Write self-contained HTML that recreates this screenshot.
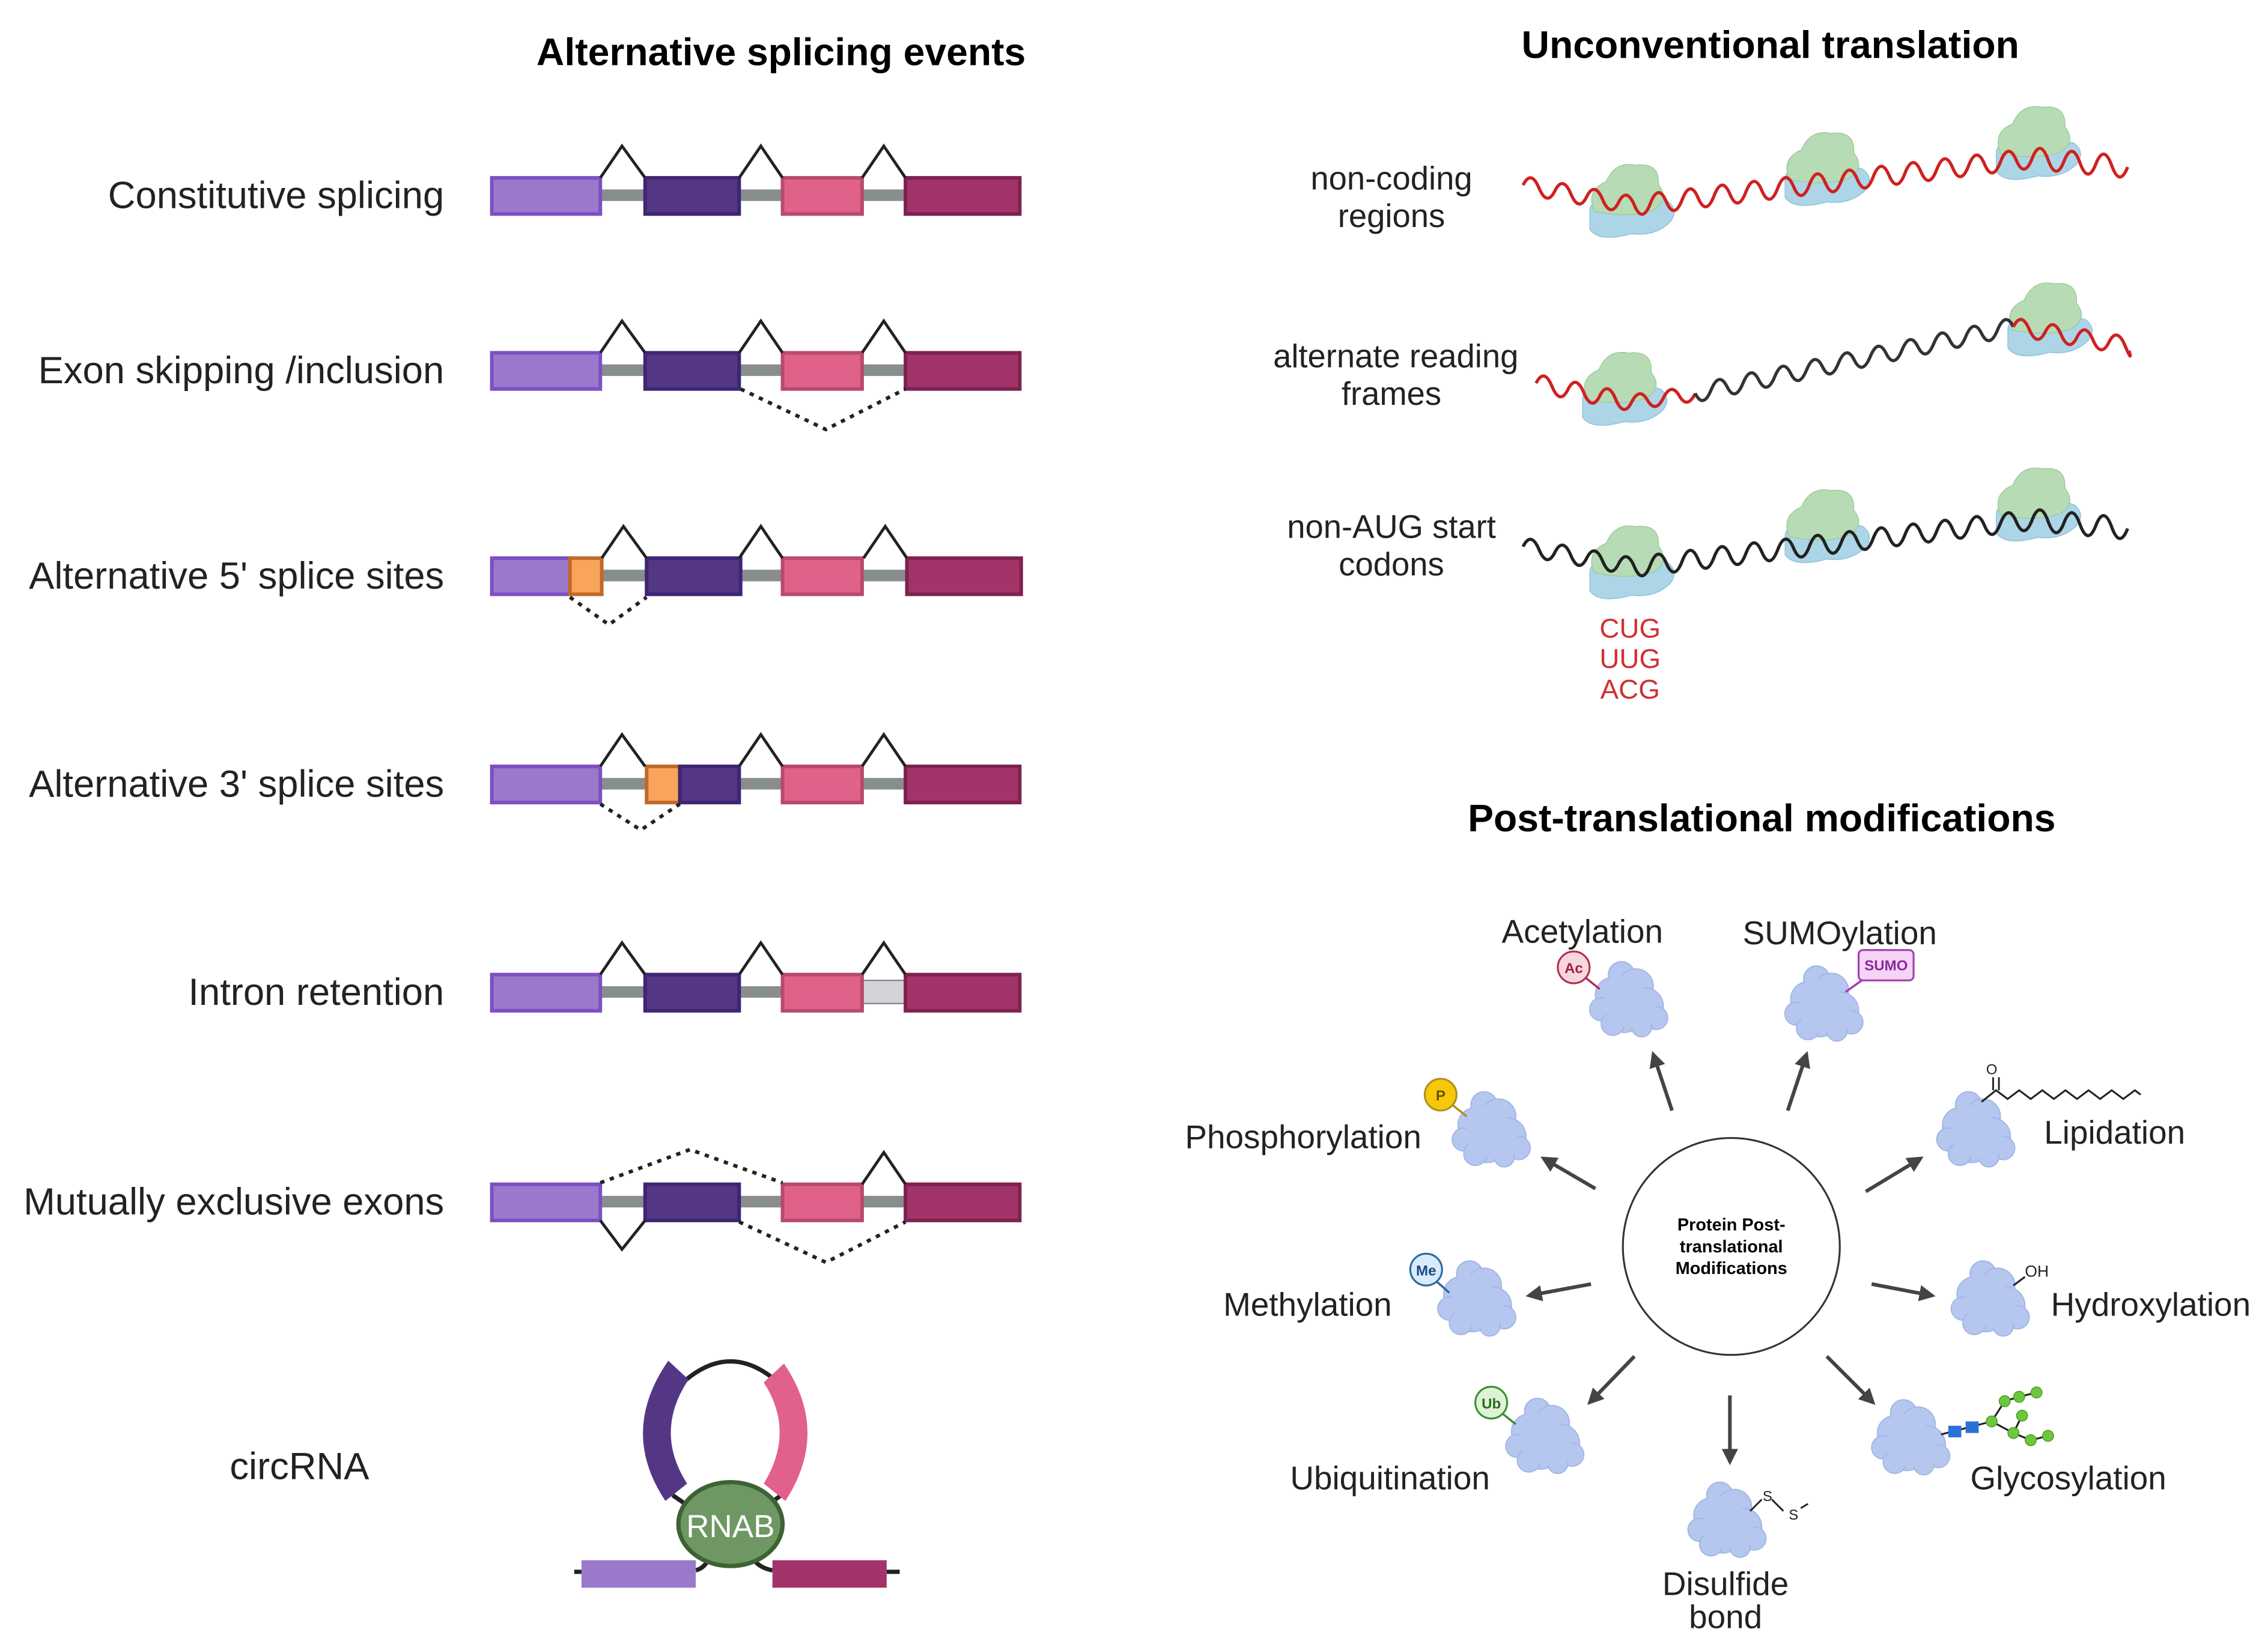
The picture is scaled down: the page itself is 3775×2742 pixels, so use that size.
<!DOCTYPE html>
<html><head><meta charset="utf-8"><style>
html,body{margin:0;padding:0;background:#fff}
svg{display:block}
text{font-family:"Liberation Sans",sans-serif;fill:#222}
</style></head><body>
<svg width="3775" height="2742" viewBox="0 0 1568 1139" xmlns="http://www.w3.org/2000/svg">
<defs>
<g id="prot">
<g fill="#b5c7ef" stroke="#a2b6e6" stroke-width="0.8">
<circle cx="-4" cy="-16" r="9"/><circle cx="6" cy="-8" r="12"/><circle cx="-10" cy="-2" r="12"/>
<circle cx="12" cy="6" r="13"/><circle cx="-2" cy="10" r="14"/><circle cx="-18" cy="8" r="8"/>
<circle cx="20" cy="14" r="8"/><circle cx="-10" cy="18" r="8"/><circle cx="10" cy="20" r="7"/>
</g>
<g fill="#b5c7ef"><circle cx="0" cy="4" r="16"/><circle cx="-6" cy="-6" r="10"/><circle cx="8" cy="10" r="12"/></g>
</g>
<g id="ribo" transform="scale(1.03)">
<path d="M-27,6 q0,-9 14,-7 q22,-5 38,0 q8,6 2,14 q-10,10 -26,8 q-22,6 -28,-3 z" fill="#acd6e8" stroke="#8fc1da" stroke-width="0.6"/>
<path d="M-24,6 q-6,-14 8,-20 q6,-14 20,-11 q16,-2 15,13 q8,10 -3,17 q-16,6 -40,1 z" fill="#b7dcb5" stroke="#9ccb99" stroke-width="0.6"/>
</g>
<marker id="ah" viewBox="0 0 10 10" refX="8" refY="5" markerWidth="4.5" markerHeight="4.5" orient="auto"><path d="M0,0 L10,5 L0,10 z" fill="#444"/></marker>
</defs>

<text x="540" y="45" font-size="26.7" font-weight="bold" text-anchor="middle" style="fill:#000">Alternative splicing events</text>
<g font-size="26.3" text-anchor="end">
<text x="307" y="144">Constitutive splicing</text>
<text x="307" y="265">Exon skipping /inclusion</text>
<text x="307" y="407">Alternative 5' splice sites</text>
<text x="307" y="551">Alternative 3' splice sites</text>
<text x="307" y="695">Intron retention</text>
<text x="307" y="840">Mutually exclusive exons</text>
<text x="207" y="1023" text-anchor="middle">circRNA</text>
</g>

<g stroke-width="2.5">
<g transform="translate(0,135)">
<rect x="415" y="-4" width="32" height="8" fill="#888e8e"/><rect x="511" y="-4" width="31" height="8" fill="#888e8e"/><rect x="596" y="-4" width="31" height="8" fill="#888e8e"/>
<rect x="340" y="-12" width="75" height="25" fill="#9a78cc" stroke="#7c4fc4"/>
<rect x="446" y="-12" width="65" height="25" fill="#533784" stroke="#3f2573"/>
<rect x="541" y="-12" width="55" height="25" fill="#e0628a" stroke="#b84a6c"/>
<rect x="626" y="-12" width="79" height="25" fill="#a2346a" stroke="#7e2250"/>
<path d="M415,-12 L430,-34 L446,-12 M511,-12 L526,-34 L541,-12 M596,-12 L611,-34 L626,-12" fill="none" stroke="#222" stroke-width="2"/>
</g>
<g transform="translate(0,256)">
<rect x="415" y="-4" width="32" height="8" fill="#888e8e"/><rect x="511" y="-4" width="31" height="8" fill="#888e8e"/><rect x="596" y="-4" width="31" height="8" fill="#888e8e"/>
<rect x="340" y="-12" width="75" height="25" fill="#9a78cc" stroke="#7c4fc4"/>
<rect x="446" y="-12" width="65" height="25" fill="#533784" stroke="#3f2573"/>
<rect x="541" y="-12" width="55" height="25" fill="#e0628a" stroke="#b84a6c"/>
<rect x="626" y="-12" width="79" height="25" fill="#a2346a" stroke="#7e2250"/>
<path d="M415,-12 L430,-34 L446,-12 M511,-12 L526,-34 L541,-12 M596,-12 L611,-34 L626,-12" fill="none" stroke="#222" stroke-width="2"/>
<path d="M512,13 L571,41 L626,13" fill="none" stroke="#222" stroke-width="2.5" stroke-dasharray="3,4"/>
</g>
<g transform="translate(0,398)">
<rect x="415" y="-4" width="32" height="8" fill="#888e8e"/><rect x="511" y="-4" width="31" height="8" fill="#888e8e"/><rect x="596" y="-4" width="31" height="8" fill="#888e8e"/>
<rect x="340" y="-12" width="54" height="25" fill="#9a78cc" stroke="#7c4fc4"/>
<rect x="394" y="-12" width="22" height="25" fill="#f8a45c" stroke="#c06a2a"/>
<rect x="447" y="-12" width="65" height="25" fill="#533784" stroke="#3f2573"/>
<rect x="541" y="-12" width="55" height="25" fill="#e0628a" stroke="#b84a6c"/>
<rect x="627" y="-12" width="79" height="25" fill="#a2346a" stroke="#7e2250"/>
<path d="M416,-12 L431,-34 L447,-12 M511,-12 L526,-34 L541,-12 M597,-12 L612,-34 L627,-12" fill="none" stroke="#222" stroke-width="2"/>
<path d="M394,15 L421,34 L447,15" fill="none" stroke="#222" stroke-width="2.5" stroke-dasharray="3,4"/>
</g>
<g transform="translate(0,542)">
<rect x="415" y="-4" width="32" height="8" fill="#888e8e"/><rect x="511" y="-4" width="31" height="8" fill="#888e8e"/><rect x="596" y="-4" width="31" height="8" fill="#888e8e"/>
<rect x="340" y="-12" width="75" height="25" fill="#9a78cc" stroke="#7c4fc4"/>
<rect x="447" y="-12" width="23" height="25" fill="#f8a45c" stroke="#c06a2a"/>
<rect x="470" y="-12" width="41" height="25" fill="#533784" stroke="#3f2573"/>
<rect x="541" y="-12" width="55" height="25" fill="#e0628a" stroke="#b84a6c"/>
<rect x="626" y="-12" width="79" height="25" fill="#a2346a" stroke="#7e2250"/>
<path d="M415,-12 L430,-34 L446,-12 M511,-12 L526,-34 L541,-12 M596,-12 L611,-34 L626,-12" fill="none" stroke="#222" stroke-width="2"/>
<path d="M415,14 L443,32 L470,14" fill="none" stroke="#222" stroke-width="2.5" stroke-dasharray="3,4"/>
</g>
<g transform="translate(0,686)">
<rect x="415" y="-4" width="32" height="8" fill="#888e8e"/><rect x="511" y="-4" width="31" height="8" fill="#888e8e"/>
<rect x="596" y="-8" width="31" height="16" fill="#d4d4d8" stroke="#888" stroke-width="1"/>
<rect x="340" y="-12" width="75" height="25" fill="#9a78cc" stroke="#7c4fc4"/>
<rect x="446" y="-12" width="65" height="25" fill="#533784" stroke="#3f2573"/>
<rect x="541" y="-12" width="55" height="25" fill="#e0628a" stroke="#b84a6c"/>
<rect x="626" y="-12" width="79" height="25" fill="#a2346a" stroke="#7e2250"/>
<path d="M415,-12 L430,-34 L446,-12 M511,-12 L526,-34 L541,-12 M596,-12 L611,-34 L626,-12" fill="none" stroke="#222" stroke-width="2"/>
</g>
<g transform="translate(0,831)">
<rect x="415" y="-4" width="32" height="8" fill="#888e8e"/><rect x="511" y="-4" width="31" height="8" fill="#888e8e"/><rect x="596" y="-4" width="31" height="8" fill="#888e8e"/>
<rect x="340" y="-12" width="75" height="25" fill="#9a78cc" stroke="#7c4fc4"/>
<rect x="446" y="-12" width="65" height="25" fill="#533784" stroke="#3f2573"/>
<rect x="541" y="-12" width="55" height="25" fill="#e0628a" stroke="#b84a6c"/>
<rect x="626" y="-12" width="79" height="25" fill="#a2346a" stroke="#7e2250"/>
<path d="M596,-12 L611,-34 L626,-12 M415,13 L430,33 L446,13" fill="none" stroke="#222" stroke-width="2"/>
<path d="M415,-13 L477,-36 L541,-13 M511,14 L571,42 L626,14" fill="none" stroke="#222" stroke-width="2.5" stroke-dasharray="3,4"/>
</g>
</g>

<g>
<path d="M397,1087 H402 M613,1087 H622" stroke="#222" stroke-width="3"/>
<path d="M481,1086 Q488,1084 490,1077 M534,1086 Q524,1084 520,1077" stroke="#222" stroke-width="3" fill="none"/>
<path d="M470,958 Q505,925 540,958" stroke="#222" stroke-width="3" fill="none"/>
<path d="M465,1034 L478,1043 M540,1034 L528,1043" stroke="#222" stroke-width="3"/>
<path d="M462,941 L476,954 Q452,990 475,1026 L460,1038 Q428,990 462,941 z" fill="#533784"/>
<path d="M542,943 L528,956 Q550,990 528,1026 L543,1038 Q574,990 542,943 z" fill="#e0628a"/>
<rect x="402" y="1079" width="79" height="19" fill="#9a78cc"/>
<rect x="534" y="1079" width="79" height="19" fill="#a2346a"/>
<ellipse cx="505" cy="1054" rx="36" ry="29" fill="#6e9763" stroke="#3c6333" stroke-width="3"/>
<text x="505" y="1063" font-size="22" text-anchor="middle" style="fill:#fff">RNAB</text>
</g>

<text x="1224" y="40" font-size="26.7" font-weight="bold" text-anchor="middle" style="fill:#000">Unconventional translation</text>
<g font-size="22.6" text-anchor="middle">
<text x="962" y="131">non-coding</text><text x="962" y="157">regions</text>
<text x="965" y="254">alternate reading</text><text x="962" y="280">frames</text>
<text x="962" y="372">non-AUG start</text><text x="962" y="398">codons</text>
</g>
<g font-size="19" text-anchor="middle"><text x="1127" y="441" style="fill:#d03030">CUG</text><text x="1127" y="462" style="fill:#d03030">UUG</text><text x="1127" y="483" style="fill:#d03030">ACG</text></g>

<use href="#ribo" x="1127" y="140"/><use href="#ribo" x="1262" y="118"/><use href="#ribo" x="1408" y="100"/>
<use href="#ribo" x="1122" y="270"/><use href="#ribo" x="1416" y="222"/>
<use href="#ribo" x="1127" y="390"/><use href="#ribo" x="1262" y="365"/><use href="#ribo" x="1408" y="350"/>

<g fill="none" stroke-width="2.2">
<path stroke="#d02020" d="M1053,128 q5.5,-11 11,2 t11,2 t11,2 t11,2 t11,2 t11,2 t11,2 t11,-1.3 t11,-1.3 t11,-1.3 t11,-1.3 t11,-1.3 t11,-1.3 t11,-1.3 t11,-1.3 t11,-1.3 t11,-1.3 t11,-1.3 t11,-1.3 t11,-1.3 t11,-1.3 t11,-1.3 t11,-1.3 t11,-1.3 t11,-1.3 t11,-1.3 t11,-1.3 t11,-1.3 t11,-1.3 t11,-1.3 t11,-1.3 t11,-1.3 t11,1 t11,1 t11,1 t11,1 t11,1 t11,1"/>
<path stroke="#d02020" d="M1062,265 q5.5,-11 11,2.2 t11,2.2 t11,2.2 t11,2.2 t11,2.2 t11,2.2 t11,-1.5 t11,-1.5 t11,-1.5 t11,-1.5"/>
<path stroke="#333" d="M1172,272 q5.5,11 11,-2.3 t11,-2.3 t11,-2.3 t11,-2.3 t11,-2.3 t11,-2.3 t11,-2.3 t11,-2.3 t11,-2.3 t11,-2.3 t11,-2.3 t11,-2.3 t11,-2.3 t11,-2.3 t11,-2.3 t11,-2.3 t11,-2.3 t11,-2.3 t11,-2.3 t11,-2.3"/>
<path stroke="#d02020" d="M1392,226 q5.5,-11 11,1.8 t11,1.8 t11,1.8 t11,1.8 t11,1.8 t11,1.8 t11,1.8 t3,4"/>
<path stroke="#222" d="M1053,378 q5.5,-11 11,2 t11,2 t11,2 t11,2 t11,2 t11,2 t11,2 t11,-1.3 t11,-1.3 t11,-1.3 t11,-1.3 t11,-1.3 t11,-1.3 t11,-1.3 t11,-1.3 t11,-1.3 t11,-1.3 t11,-1.3 t11,-1.3 t11,-1.3 t11,-1.3 t11,-1.3 t11,-1.3 t11,-1.3 t11,-1.3 t11,-1.3 t11,-1.3 t11,-1.3 t11,-1.3 t11,-1.3 t11,-1.3 t11,-1.3 t11,1 t11,1 t11,1 t11,1 t11,1 t11,1"/>
</g>

<text x="1218" y="575" font-size="26.7" font-weight="bold" text-anchor="middle" style="fill:#000">Post-translational modifications</text>
<circle cx="1197" cy="862" r="75" fill="#fff" stroke="#333" stroke-width="1.3"/>
<g font-size="12" font-weight="bold" text-anchor="middle">
<text x="1197" y="851" style="fill:#000">Protein Post-</text>
<text x="1197" y="866" style="fill:#000">translational</text>
<text x="1197" y="881" style="fill:#000">Modifications</text>
</g>
<g stroke="#444" stroke-width="2.5" marker-end="url(#ah)">
<line x1="1156" y1="768" x2="1143" y2="729"/>
<line x1="1236" y1="768" x2="1249" y2="729"/>
<line x1="1103" y1="822" x2="1067" y2="801"/>
<line x1="1290" y1="824" x2="1328" y2="801"/>
<line x1="1100" y1="888" x2="1057" y2="896"/>
<line x1="1294" y1="888" x2="1336" y2="896"/>
<line x1="1130" y1="938" x2="1099" y2="970"/>
<line x1="1196" y1="965" x2="1196" y2="1011"/>
<line x1="1263" y1="938" x2="1295" y2="970"/>
</g>

<use href="#prot" x="1125" y="690"/><use href="#prot" x="1260" y="693"/>
<use href="#prot" x="1030" y="780"/><use href="#prot" x="1365" y="780"/>
<use href="#prot" x="1020" y="897"/><use href="#prot" x="1375" y="897"/>
<use href="#prot" x="1067" y="992"/><use href="#prot" x="1320" y="993"/>
<use href="#prot" x="1193" y="1050"/>

<line x1="1096" y1="676" x2="1106" y2="684" stroke="#b03050" stroke-width="1.5"/>
<circle cx="1088" cy="669" r="11" fill="#f7d6de" stroke="#b03050" stroke-width="1.3"/>
<text x="1088" y="673" font-size="10" font-weight="bold" text-anchor="middle" style="fill:#a02040">Ac</text>
<line x1="1276" y1="686" x2="1290" y2="676" stroke="#a040b0" stroke-width="1.5"/>
<rect x="1285" y="657" width="38" height="21" rx="3" fill="#f5d4f7" stroke="#a040b0" stroke-width="1.3"/>
<text x="1304" y="671" font-size="10" font-weight="bold" text-anchor="middle" style="fill:#8a2a9a">SUMO</text>
<line x1="1004" y1="764" x2="1014" y2="772" stroke="#b09020" stroke-width="1.5"/>
<circle cx="996" cy="757" r="11" fill="#f5c80a" stroke="#b09020" stroke-width="1.3"/>
<text x="996" y="761" font-size="10" font-weight="bold" text-anchor="middle" style="fill:#6a5000">P</text>
<line x1="993" y1="886" x2="1002" y2="894" stroke="#2a6aa0" stroke-width="1.5"/>
<circle cx="986" cy="878" r="11" fill="#d8ebf8" stroke="#2a6aa0" stroke-width="1.3"/>
<text x="986" y="882" font-size="10" font-weight="bold" text-anchor="middle" style="fill:#1a4a80">Me</text>
<line x1="1038" y1="977" x2="1048" y2="985" stroke="#3a9030" stroke-width="1.5"/>
<circle cx="1031" cy="970" r="11" fill="#dff2d8" stroke="#3a9030" stroke-width="1.3"/>
<text x="1031" y="974" font-size="10" font-weight="bold" text-anchor="middle" style="fill:#2a6a20">Ub</text>
<path d="M1370,762 L1380,754 L1388,760 L1396,754 L1404,760 L1412,754 L1420,760 L1428,754 L1436,760 L1444,754 L1452,760 L1460,754 L1468,760 L1476,754 L1480,757" fill="none" stroke="#222" stroke-width="1.3"/>
<path d="M1378,754 V745 M1382,754 V745" stroke="#222" stroke-width="1.2"/>
<text x="1377" y="743" font-size="10" text-anchor="middle">O</text>
<path d="M1392,889 L1400,883" stroke="#222" stroke-width="1.3"/>
<text x="1400" y="883" font-size="11">OH</text>
<path d="M1210,1045 L1218,1037 M1225,1037 L1233,1045 M1245,1043 L1250,1040" stroke="#222" stroke-width="1.2"/>
<text x="1222" y="1038" font-size="10" text-anchor="middle">S</text>
<text x="1240" y="1051" font-size="10" text-anchor="middle">S</text>
<path d="M1342,992 L1377,983 L1386,969 L1396,966 L1408,963 M1377,983 L1392,991 L1398,979 M1392,991 L1404,996 L1416,993" fill="none" stroke="#222" stroke-width="1.3"/>
<rect x="1347" y="986" width="9" height="8" fill="#2a70d8"/><rect x="1359" y="983" width="9" height="8" fill="#2a70d8"/>
<g fill="#6cc83a" stroke="#4a9a2a" stroke-width="0.6">
<circle cx="1377" cy="983" r="3.8"/><circle cx="1386" cy="969" r="3.8"/><circle cx="1396" cy="966" r="3.8"/><circle cx="1408" cy="963" r="3.8"/>
<circle cx="1398" cy="979" r="3.8"/><circle cx="1392" cy="991" r="3.8"/><circle cx="1404" cy="996" r="3.8"/><circle cx="1416" cy="993" r="3.8"/>
</g>

<g font-size="22.8" text-anchor="middle">
<text x="1094" y="652">Acetylation</text>
<text x="1272" y="653">SUMOylation</text>
<text x="901" y="794">Phosphorylation</text>
<text x="1462" y="791">Lipidation</text>
<text x="904" y="910">Methylation</text>
<text x="1487" y="910">Hydroxylation</text>
<text x="961" y="1030">Ubiquitination</text>
<text x="1430" y="1030">Glycosylation</text>
<text x="1193" y="1103">Disulfide</text>
<text x="1193" y="1126">bond</text>
</g>
</svg>
</body></html>
